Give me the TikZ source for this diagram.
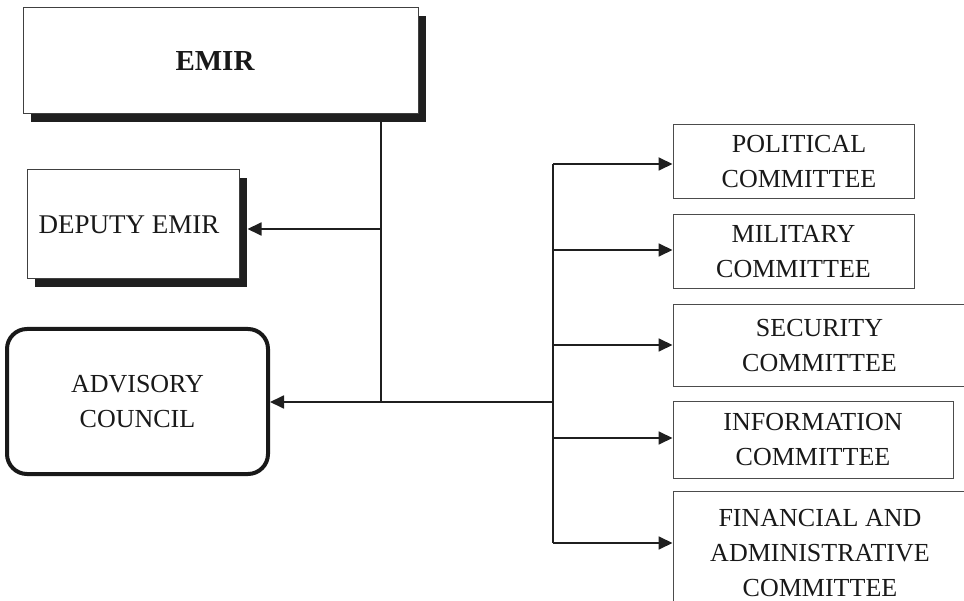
\documentclass[tikz,border=0pt]{standalone}
\usepackage{fontspec}
\setmainfont{Liberation Serif}
\usetikzlibrary{arrows.meta,shadows}
\begin{document}
\begin{tikzpicture}[x=1pt,y=-1pt,
  txt/.style={text=black!90,font=\fontsize{26}{35}\selectfont,align=center,inner sep=0pt},
  shbox/.style={txt,draw=black!75,line width=1pt,fill=white,rectangle,
     drop shadow={shadow xshift=8pt,shadow yshift=-8pt,fill=black!88,opacity=1}},
  combox/.style={txt,draw=black!70,line width=1pt,fill=white,rectangle},
  advbox/.style={txt,draw=black!90,line width=4pt,rounded corners=20pt,fill=white,rectangle},
  conn/.style={draw=black!88,line width=1.8pt},
  arr/.style={conn,-{Triangle[length=14pt,width=13pt]}}]
\useasboundingbox (0,0) rectangle (964,601);
\clip (0,0) rectangle (964,601);
% boxes
\node[shbox,minimum width=395pt,minimum height=106pt,font=\fontsize{29}{35}\selectfont\bfseries] (emir) at (220.5,61) {EMIR\hspace*{11pt}};
\node[shbox,minimum width=212pt,minimum height=109pt,font=\fontsize{27}{35}\selectfont] (dep) at (133,224.5) {DEPUTY EMIR\hspace*{8pt}};
\node[advbox,minimum width=261pt,minimum height=145pt] (adv) at (137.5,401.5) {ADVISORY\\COUNCIL};
\node[combox,minimum width=241pt,minimum height=74pt] (pol) at (793.5,162) {\hspace*{11pt}POLITICAL\\\hspace*{11pt}COMMITTEE};
\node[combox,minimum width=241pt,minimum height=74pt] (mil) at (793.5,252) {MILITARY\\COMMITTEE};
\node[combox,minimum width=293pt,minimum height=82pt] (sec) at (819.5,346) {SECURITY\\COMMITTEE};
\node[combox,minimum width=280pt,minimum height=76pt] (inf) at (813,440) {INFORMATION\\COMMITTEE};
\node[combox,minimum width=294pt,minimum height=124pt] (fin) at (820,553) {FINANCIAL AND\\ADMINISTRATIVE\\COMMITTEE};
% junctions
\coordinate (j1) at (381,229);
\coordinate (j2) at (381,402);
\coordinate (s0) at (553,402);
\coordinate (s1) at (553,164);
\coordinate (s2) at (553,250);
\coordinate (s3) at (553,345);
\coordinate (s4) at (553,438);
\coordinate (s5) at (553,543);
\coordinate (dsh) at ([xshift=8pt]dep.east);
% connectors
\draw[conn] (emir.south -| j1) -- (j2);
\draw[arr] (j1) -- (j1 -| dsh);
\draw[arr] (s0) -- (s0 -| adv.east);
\draw[conn] (s1) -- (s5);
\draw[arr] (s1) -- (s1 -| pol.west);
\draw[arr] (s2) -- (s2 -| mil.west);
\draw[arr] (s3) -- (s3 -| sec.west);
\draw[arr] (s4) -- (s4 -| inf.west);
\draw[arr] (s5) -- (s5 -| fin.west);
\end{tikzpicture}
\end{document}
